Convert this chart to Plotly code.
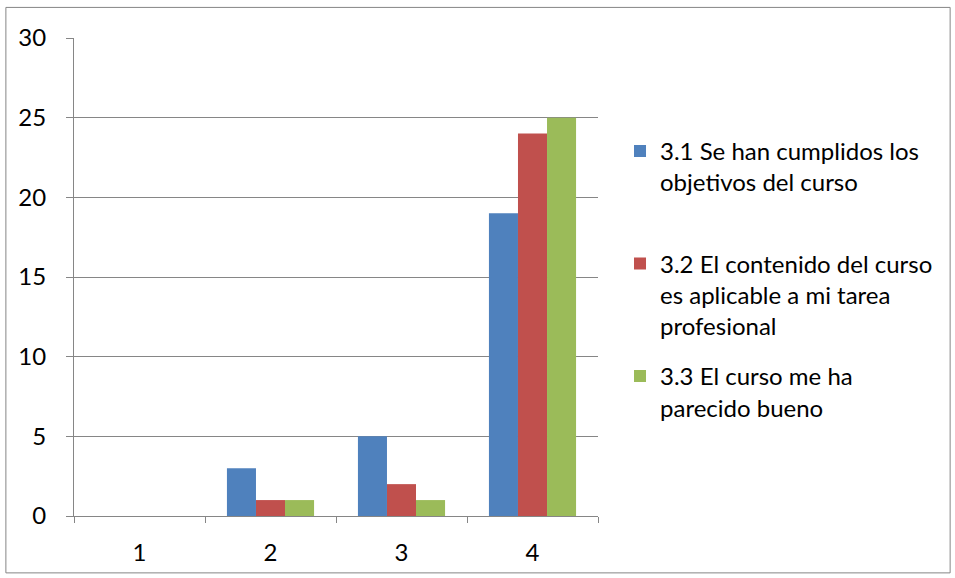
import plotly.graph_objects as go

categories = ["1", "2", "3", "4"]
serie_31 = [0, 3, 5, 19]
serie_32 = [0, 1, 2, 24]
serie_33 = [0, 1, 1, 25]
names = [
    "3.1 Se han cumplidos los<br>objetivos del curso<br> ",
    "3.2 El contenido del curso<br>es aplicable a mi tarea<br>profesional",
    "3.3 El curso me ha<br>parecido bueno",
]
colors = ["#4F81BD", "#C0504D", "#9BBB59"]

fig = go.Figure()
for i, vals in enumerate([serie_31, serie_32, serie_33]):
    fig.add_trace(go.Bar(x=categories, y=vals, name=names[i], marker_color=colors[i],
                         marker_line_width=0, legendgroup="g%d" % i))

grid = "#868686"
fig.update_layout(
    width=955, height=578,
    margin=dict(l=74, r=357, t=38, b=60),
    paper_bgcolor="white", plot_bgcolor="white",
    font=dict(family="Lato, Noto Sans, sans-serif", size=24, color="black"),
    barmode="group", bargap=0.335, bargroupgap=0,
    legend=dict(x=1.042, xanchor="left", y=0.81, yanchor="top",
                valign="top", tracegroupgap=16, itemwidth=30,
                font=dict(size=24)),
    shapes=[dict(type="rect", xref="paper", yref="paper",
                 x0=-0.13, x1=1.672, y0=-0.119, y1=1.064,
                 line=dict(color=grid, width=1))],
)
fig.update_xaxes(type="category", showline=True, linecolor=grid, linewidth=1,
                 ticks="outside", tickson="boundaries", ticklen=6, tickcolor=grid,
                 ticklabelstandoff=15, showgrid=False)
fig.update_yaxes(range=[0, 30], dtick=5, showline=True, linecolor=grid, linewidth=1,
                 ticks="outside", ticklen=7, tickcolor=grid, gridcolor=grid, gridwidth=1,
                 ticklabelstandoff=15, zeroline=False)

fig.write_html("out.html", config={"displayModeBar": False},
               post_script="document.body.style.margin='0';")
